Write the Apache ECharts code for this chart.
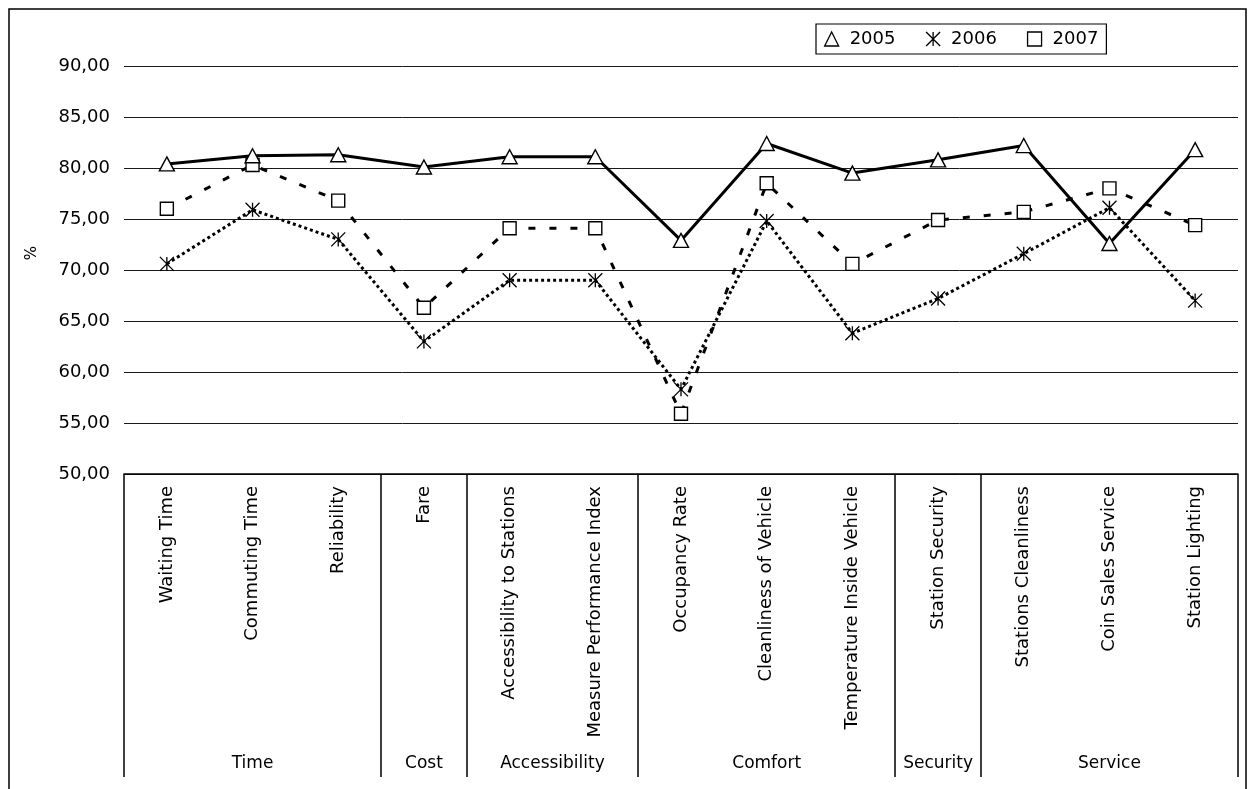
<!DOCTYPE html>
<html>
<head>
<meta charset="utf-8">
<script src="https://cdn.jsdelivr.net/npm/echarts@6/dist/echarts.min.js"></script>
<style>
html,body{margin:0;padding:0;background:#fff;}
#c{width:1255px;height:789px;}
</style>
</head>
<body>
<div id="c"></div>
<script>
const categories = ['Waiting Time','Commuting Time','Reliability','Fare','Accessibility to Stations','Measure Performance Index','Occupancy Rate','Cleanliness of Vehicle','Temperature Inside Vehicle','Station Security','Stations Cleanliness','Coin Sales Service','Station Lighting'];
const groupNames = ['Time','Cost','Accessibility','Comfort','Security','Service'];
const groupBounds = [0,3,4,6,9,10,13];
const s2005 = [80.4, 81.2, 81.3, 80.1, 81.1, 81.1, 72.9, 82.4, 79.5, 80.8, 82.2, 72.6, 81.8];
const s2006 = [70.6, 75.9, 73.0, 63.0, 69.0, 69.0, 58.3, 74.8, 63.8, 67.2, 71.6, 76.1, 67.0];
const s2007 = [76.0, 80.3, 76.8, 66.3, 74.1, 74.1, 55.9, 78.5, 70.6, 74.9, 75.7, 78.0, 74.4];
const yTicks = [50,55,60,65,70,75,80,85,90];

const groupCenters = groupNames.map((g,i)=>(groupBounds[i]+groupBounds[i+1])/2);
const FONT = 'DejaVu Sans';
const asterisk = 'path://M0,0L14,14M14,0L0,14M7,0L7,14';

const chart = echarts.init(document.getElementById('c'), null, {renderer:'canvas'});
chart.setOption({
  backgroundColor:'#fff',
  animation:false,
  textStyle:{fontFamily:FONT, color:'#000'},
  grid:{left:124, right:17, top:66, bottom:315, containLabel:false},
  legend:{
    left:816, top:24,
    orient:'horizontal',
    padding:[6,8],
    borderColor:'#000', borderWidth:1.2,
    itemWidth:14, itemHeight:14, itemGap:30,
    selectedMode:false,
    itemStyle:{color:'#fff', borderColor:'#000', borderWidth:1.3},
    textStyle:{fontFamily:FONT, fontSize:18, color:'#000', padding:[0,0,0,6]},
    data:[{name:'2005', icon:'triangle'},{name:'2006', icon:asterisk},{name:'2007', icon:'rect'}]
  },
  graphic:[
    {type:'rect', shape:{x:9, y:9, width:1237, height:900}, style:{fill:'none', stroke:'#000', lineWidth:1.5}, z:-1, silent:true},
    {type:'text', x:32, y:253, rotation:Math.PI/2, style:{text:'%', font:'15px "DejaVu Sans"', fill:'#000', align:'center', verticalAlign:'middle'}}
  ],
  xAxis:[
    {
      type:'category', data:categories, boundaryGap:true, position:'bottom',
      axisLine:{show:true, lineStyle:{color:'#000', width:1.5}},
      axisTick:{show:false},
      splitLine:{show:false},
      axisLabel:{rotate:90, margin:12, fontFamily:FONT, fontSize:18, color:'#000', interval:0}
    },
    {
      type:'value', min:0, max:13, position:'bottom', gridIndex:0,
      axisLine:{show:false},
      splitLine:{show:false},
      axisTick:{show:true, customValues:groupBounds, length:303, inside:false, lineStyle:{color:'#000', width:1.5}},
      axisLabel:{show:true, customValues:groupCenters, margin:281, fontFamily:FONT, fontSize:17, color:'#000',
        formatter:function(v){ const i = groupCenters.indexOf(v); return i>=0 ? groupNames[i] : ''; }}
    }
  ],
  yAxis:{
    type:'value', min:50, max:90, interval:5,
    axisLine:{show:false}, axisTick:{show:false},
    splitLine:{show:true, lineStyle:{color:'#1a1a1a', width:1}},
    axisLabel:{margin:14, fontFamily:FONT, fontSize:18, color:'#000',
      formatter:function(v){ return v.toFixed(2).replace('.',','); }}
  },
  series:[
    {name:'2006', type:'line', data:s2006, symbol:asterisk, symbolSize:14,
      lineStyle:{color:'#000', width:3, type:[3,3], cap:'butt'},
      itemStyle:{color:'#000', borderColor:'#000', borderWidth:1.3}, z:3},
    {name:'2007', type:'line', data:s2007, symbol:'rect', symbolSize:13,
      lineStyle:{color:'#000', width:3, type:[7,14], cap:'butt'},
      itemStyle:{color:'#fff', borderColor:'#000', borderWidth:1.4}, z:4},
    {name:'2005', type:'line', data:s2005, symbol:'triangle', symbolSize:[15,14],
      lineStyle:{color:'#000', width:3, type:'solid'},
      itemStyle:{color:'#fff', borderColor:'#000', borderWidth:1.4}, z:5}
  ]
});
</script>
</body>
</html>
